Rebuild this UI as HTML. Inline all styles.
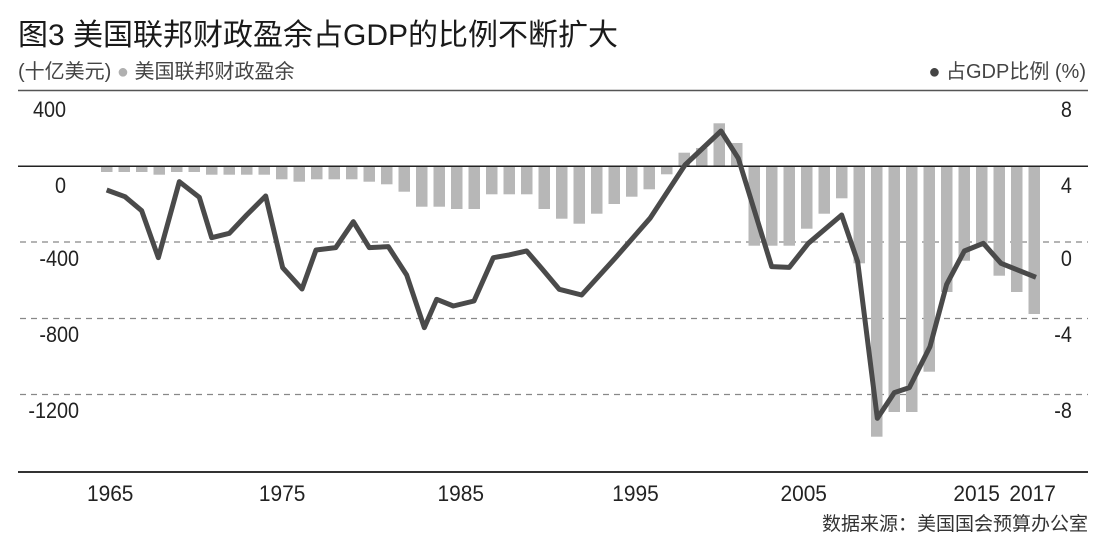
<!DOCTYPE html>
<html><head><meta charset="utf-8"><style>
body{margin:0;background:#fff;width:1104px;height:554px;overflow:hidden;font-family:"Liberation Sans","Noto Sans CJK SC",sans-serif;}
</style></head><body>
<svg width="1104" height="554" xmlns="http://www.w3.org/2000/svg" font-family="Liberation Sans, Noto Sans CJK SC, sans-serif">
<text x="18" y="45" font-size="30" fill="#1a1a1a">图3 美国联邦财政盈余占GDP的比例不断扩大</text>
<text x="18" y="78" font-size="20" fill="#444">(十亿美元) <tspan fill="#b0b0b0">●</tspan> 美国联邦财政盈余</text>
<text x="1086" y="78" font-size="20" fill="#444" text-anchor="end"><tspan fill="#444">●</tspan> 占GDP比例 (%)</text>
<line x1="18" y1="90.5" x2="1088" y2="90.5" stroke="#555" stroke-width="1.5"/>
<g stroke="#888" stroke-width="1.2" stroke-dasharray="6,5">
<line x1="20" y1="242" x2="1088" y2="242"/>
<line x1="20" y1="318.5" x2="1088" y2="318.5"/>
<line x1="20" y1="394.5" x2="1088" y2="394.5"/>
</g>
<g id="bars" fill="#b7b7b7"></g>
<line x1="18" y1="166.3" x2="1088" y2="166.3" stroke="#222" stroke-width="1.5"/>
<g transform="translate(90,90) scale(0.33333)">
<polyline fill="none" stroke="#4a4a4a" stroke-width="15" stroke-linejoin="round" points="50,300 105,320 155,362 205,503 268,275 328,322 365,443 418,430 470,375 527,318 578,533 636,597 678,480 737,473 790,395 838,473 895,470 950,555 1003,713 1040,628 1090,648 1152,633 1210,503 1257,495 1310,483 1355,535 1408,598 1475,615 1575,505 1680,385 1785,225 1893,123 1945,205 2045,530 2098,532 2155,460 2255,375 2303,515 2362,985 2413,908 2458,893 2520,770 2570,583 2623,483 2680,460 2733,520 2838,562"/>
</g>
<line x1="18" y1="472" x2="1088" y2="472" stroke="#333" stroke-width="2"/>
<g font-size="22" fill="#222">
<g transform="scale(0.9,1)">
<text x="73.3" y="117" text-anchor="end">400</text>
<text x="73.3" y="193" text-anchor="end">0</text>
<text x="87.8" y="266" text-anchor="end">-400</text>
<text x="87.8" y="342" text-anchor="end">-800</text>
<text x="87.8" y="418" text-anchor="end">-1200</text>
<text x="1191" y="117" text-anchor="end">8</text>
<text x="1191" y="193" text-anchor="end">4</text>
<text x="1191" y="266" text-anchor="end">0</text>
<text x="1191" y="342" text-anchor="end">-4</text>
<text x="1191" y="418" text-anchor="end">-8</text>
</g>
</g>
<g font-size="22" fill="#222" text-anchor="middle">
<g transform="scale(0.95,1)">
<text x="116" y="501">1965</text>
<text x="297" y="501">1975</text>
<text x="485" y="501">1985</text>
<text x="669" y="501">1995</text>
<text x="846" y="501">2005</text>
<text x="1028" y="501">2015</text>
<text x="1087" y="501">2017</text>
</g>
</g>
<text x="1088" y="530" font-size="19" fill="#333" text-anchor="end">数据来源：美国国会预算办公室</text>
</svg>
<script>
var b=[246,246,246,254,246,246,254,254,254,254,268,275,268,268,268,275,283,305,350,350,357,357,313,313,313,357,386,401,371,342,320,298,253,-188,-174,-100,-159,467,467,467,416,371,325,520,1040,966,966,845,606,512,470,557,606,672];
var g=document.getElementById('bars'),s='';
for(var i=0;i<b.length;i++){var x=101+17.5*i;var v=b[i];var y0,y1;
if(v<0){y0=90+(-v)/3;y1=166.3;}else{y0=166.3;y1=90+v/3;}
s+='<rect x="'+x.toFixed(1)+'" y="'+y0.toFixed(1)+'" width="11.5" height="'+(y1-y0).toFixed(1)+'"/>';}
g.innerHTML=s;
</script>
</body></html>
